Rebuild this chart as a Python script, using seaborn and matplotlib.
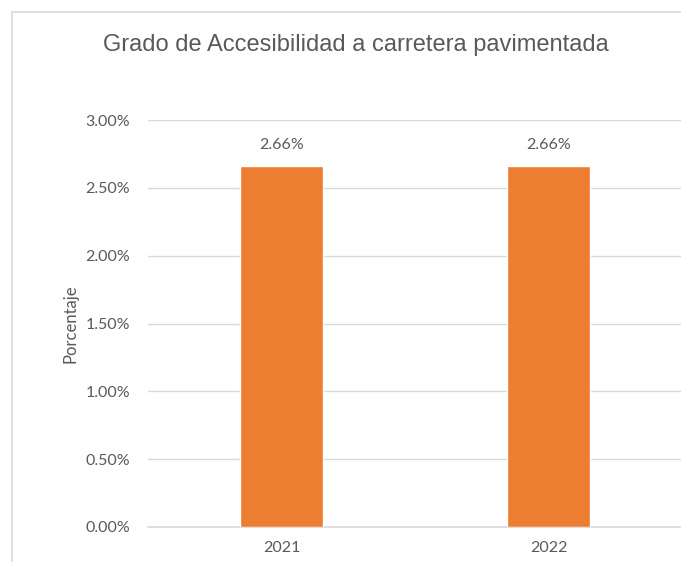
import matplotlib
matplotlib.use("Agg")
import matplotlib.pyplot as plt
import matplotlib.patches as mpatches
from matplotlib.ticker import PercentFormatter
import pandas as pd
import seaborn as sns

years = ["2021", "2022"]
values = [0.0266, 0.0266]
y_ticks = [0.0, 0.005, 0.010, 0.015, 0.020, 0.025, 0.030]

TITLE = "Grado de Accesibilidad a carretera pavimentada"
Y_LABEL = "Porcentaje"
BAR_COLOR = "#ED7D31"
TEXT_COLOR = "#595959"
GRID_COLOR = "#D9D9D9"

df = pd.DataFrame({"Year": years, "Value": values})

sns.set_theme(style="white")
plt.rcParams["font.family"] = ["Lato", "DejaVu Sans"]

fig = plt.figure(figsize=(6.81, 5.62), dpi=100)
W, H = 681, 562

# chart border (light gray frame, cut off at right/bottom)
fig.patches.append(mpatches.Rectangle((12 / W, -0.05), 1.1, 1 - 12 / H + 0.05,
                                      transform=fig.transFigure, fill=False,
                                      edgecolor=GRID_COLOR, linewidth=1.2))

ax = fig.add_axes([148 / W, 35 / H, (682 - 148) / W, 407 / H])
sns.barplot(data=df, x="Year", y="Value", color=BAR_COLOR, width=0.31,
            saturation=1, ax=ax)

ax.set_xlim(-0.5, 1.5)
ax.set_ylim(0, 0.03)
ax.set_yticks(y_ticks)
ax.yaxis.set_major_formatter(PercentFormatter(xmax=1, decimals=2))
ax.grid(axis="y", color=GRID_COLOR, linewidth=1)
ax.axhline(0, color=GRID_COLOR, linewidth=1.2, clip_on=False, zorder=0.5)
ax.set_axisbelow(True)
for s in ax.spines.values():
    s.set_visible(False)

ax.tick_params(axis="both", length=0, labelsize=11.5, labelcolor=TEXT_COLOR)
ax.tick_params(axis="y", pad=13)
ax.tick_params(axis="x", pad=10)
ax.set_xlabel("")
ax.set_ylabel(Y_LABEL, fontsize=12, color=TEXT_COLOR, labelpad=5)

for c in ax.containers:
    ax.bar_label(c, labels=[f"{v * 100:.2f}%" for v in values], padding=10,
                 fontsize=11.5, color=TEXT_COLOR)

fig.text(356 / W, 1 - 45 / H, TITLE, ha="center", va="center", fontsize=17,
         color=TEXT_COLOR, family=["Liberation Sans", "DejaVu Sans"])

fig.savefig("out.png", dpi=100)
